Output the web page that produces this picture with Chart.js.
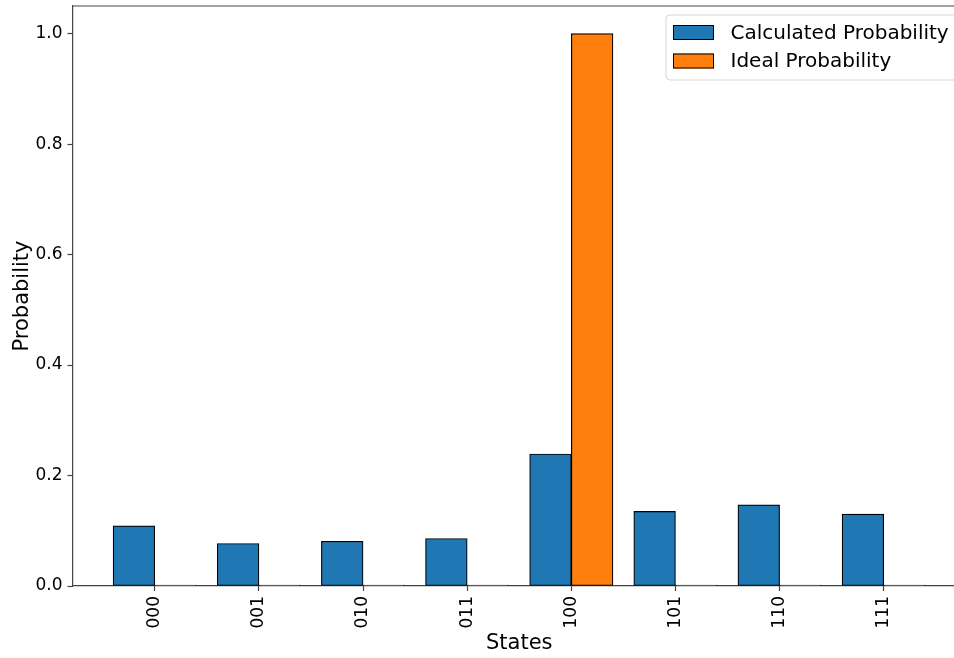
<!DOCTYPE html>
<html>
<head>
<meta charset="utf-8">
<script src="https://cdn.jsdelivr.net/npm/chart.js@4.4.1/dist/chart.umd.min.js"></script>
<style>
  html, body { margin: 0; padding: 0; background: #fff; overflow: hidden; }
  #wrap { width: 980px; height: 658px; }
</style>
</head>
<body>
<div id="wrap"><canvas id="probChart" width="980" height="658"></canvas></div>
<script>
const states = ['000', '001', '010', '011', '100', '101', '110', '111'];
const calculated = [0.109, 0.077, 0.081, 0.086, 0.239, 0.135, 0.147, 0.130];
const ideal = [0, 0, 0, 0, 1.0, 0, 0, 0];
const yTicks = [0, 0.2, 0.4, 0.6, 0.8, 1.0];

const FONT = "'DejaVu Sans', sans-serif";
const spine = '#444';

// bars sit 0.2 either side of each state index, like matplotlib's x - w/2, x + w/2
const calcPoints = calculated.map((v, i) => ({x: i - 0.2, y: v}));
const idealPoints = ideal.map((v, i) => ({x: i + 0.2, y: v}));

// matplotlib-style legend with a rounded frame
const boxLegend = {
    id: 'boxLegend',
    afterDraw(chart) {
        const ctx = chart.ctx;
        const sets = chart.data.datasets;
        const x0 = 666, y0 = 15, w = 300, h = 65;
        ctx.save();
        ctx.beginPath();
        ctx.roundRect(x0, y0, w, h, 4);
        ctx.fillStyle = 'rgba(255,255,255,0.8)';
        ctx.fill();
        ctx.strokeStyle = '#d6d6d6';
        ctx.lineWidth = 1;
        ctx.stroke();
        ctx.font = '20px ' + FONT;
        ctx.textBaseline = 'middle';
        sets.forEach((ds, i) => {
            const cy = 32.5 + i * 28.5;
            ctx.fillStyle = ds.backgroundColor;
            ctx.fillRect(673, cy - 7.5, 41, 15);
            ctx.strokeStyle = '#000';
            ctx.lineWidth = 1;
            ctx.strokeRect(673.5, cy - 7, 40, 14);
            ctx.fillStyle = '#000';
            ctx.fillText(ds.label, 730.5, cy + 1);
        });
        ctx.restore();
    }
};

// top and right spines
const frame = {
    id: 'frame',
    afterDraw(chart) {
        const {left, right, top} = chart.chartArea;
        const ctx = chart.ctx;
        ctx.save();
        ctx.strokeStyle = spine;
        ctx.lineWidth = 1.2;
        ctx.beginPath();
        ctx.moveTo(left, top);
        ctx.lineTo(right, top);
        ctx.lineTo(right, chart.chartArea.bottom);
        ctx.stroke();
        ctx.restore();
    }
};

new Chart(document.getElementById('probChart'), {
    type: 'bar',
    data: {
        datasets: [{
            label: 'Calculated Probability',
            data: calcPoints,
            backgroundColor: '#1f77b4',
            borderColor: '#000',
            borderWidth: 1.2,
            borderSkipped: false,
            minBarLength: 1,
            grouped: false,
            categoryPercentage: 1,
            barPercentage: 1
        }, {
            label: 'Ideal Probability',
            data: idealPoints,
            backgroundColor: '#ff7f0e',
            borderColor: '#000',
            borderWidth: 1.2,
            borderSkipped: false,
            minBarLength: 1,
            grouped: false,
            categoryPercentage: 1,
            barPercentage: 1
        }]
    },
    options: {
        responsive: false,
        animation: false,
        layout: { padding: { left: 0, top: 6, right: 14, bottom: 0 } },
        plugins: {
            legend: { display: false },
            tooltip: { enabled: false }
        },
        scales: {
            x: {
                type: 'linear',
                offset: false,
                min: -0.79,
                max: 7.79,
                afterBuildTicks: scale => { scale.ticks = states.map((s, i) => ({value: i})); },
                afterFit: scale => { scale.height = 72; },
                grid: { display: true, offset: false, drawOnChartArea: false, tickLength: 5, color: spine, tickWidth: 1.2 },
                border: { display: true, color: spine, width: 1.2 },
                ticks: {
                    autoSkip: false,
                    maxRotation: 90,
                    minRotation: 90,
                    padding: 5,
                    color: '#000',
                    font: { family: FONT, size: 17 },
                    callback: v => states[v] ?? ''
                },
                title: {
                    display: true,
                    text: 'States',
                    color: '#000',
                    font: { family: FONT, size: 21 },
                    padding: { top: 0, bottom: 2 }
                }
            },
            y: {
                min: 0,
                max: 1.05,
                afterBuildTicks: scale => { scale.ticks = yTicks.map(v => ({value: v})); },
                afterFit: scale => {
                    scale.width = 72.5;
                    scale.paddingTop = 0;
                    scale.paddingBottom = 0;
                },
                grid: { display: true, drawOnChartArea: false, tickLength: 5, color: spine, tickWidth: 1.2 },
                border: { display: true, color: spine, width: 1.2 },
                ticks: {
                    padding: 5,
                    color: '#000',
                    font: { family: FONT, size: 17 },
                    callback: v => v.toFixed(1)
                },
                title: {
                    display: true,
                    text: 'Probability',
                    color: '#000',
                    font: { family: FONT, size: 21 },
                    padding: { top: 10, bottom: 0 }
                }
            }
        }
    },
    plugins: [boxLegend, frame]
});
</script>
</body>
</html>
